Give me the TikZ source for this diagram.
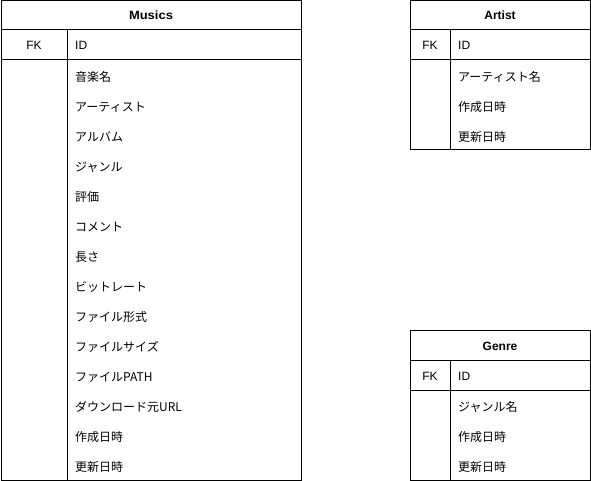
\documentclass[tikz,border=0pt]{standalone}
\usepackage{fontspec}
\setmainfont{Liberation Sans}
\newfontfamily\jp{Noto Sans CJK JP}
\begin{document}
\begin{tikzpicture}[x=1pt,y=1pt,
  cellbox/.style={draw=black, line width=1pt, anchor=north west, inner sep=0pt, outer sep=0pt},
  hdrtext/.style={anchor=base, inner sep=0pt, font=\fontsize{12}{14}\selectfont\bfseries},
  keytext/.style={anchor=base, inner sep=0pt, font=\fontsize{12}{14}\selectfont},
  idtext/.style={anchor=base west, inner sep=0pt, font=\fontsize{12}{14}\selectfont},
  rowtext/.style={anchor=base west, inner sep=0pt, font=\fontsize{12}{14}\selectfont\jp}]
\useasboundingbox (0,0) rectangle (591,-481);
% ---------- Musics ----------
\node[cellbox, minimum width=300, minimum height=29] (mH) at (1,-1) {};
\node[cellbox, minimum width=66, minimum height=30] (mK) at (1,-30) {};
\node[cellbox, minimum width=234, minimum height=30] (mI) at (67,-30) {};
\node[cellbox, minimum width=66, minimum height=420] (mL) at (1,-60) {};
\node[cellbox, minimum width=234, minimum height=420] (mR) at (67,-60) {};
\node[hdrtext] (mHt) at (151,-20) {\scalebox{1.08}[1]{Musics}};
\node[keytext] (mKt) at (34,-50) {FK};
\node[idtext] (mIt) at (75,-50) {ID};
\node[rowtext] (m1) at (75,-81.5) {音楽名};
\node[rowtext] (m2) at (75,-111.5) {アーティスト};
\node[rowtext] (m3) at (75,-141.5) {アルバム};
\node[rowtext] (m4) at (75,-171.5) {ジャンル};
\node[rowtext] (m5) at (75,-201.5) {評価};
\node[rowtext] (m6) at (75,-231.5) {コメント};
\node[rowtext] (m7) at (75,-261.5) {長さ};
\node[rowtext] (m8) at (75,-291.5) {ビットレート};
\node[rowtext] (m9) at (75,-321.5) {ファイル形式};
\node[rowtext] (m10) at (75,-351.5) {ファイルサイズ};
\node[rowtext] (m11) at (75,-381.5) {ファイルPATH};
\node[rowtext] (m12) at (75,-411.5) {ダウンロード元URL};
\node[rowtext] (m13) at (75,-441.5) {作成日時};
\node[rowtext] (m14) at (75,-471.5) {更新日時};
% ---------- Artist ----------
\node[cellbox, minimum width=180, minimum height=29] (aH) at (410,-1) {};
\node[cellbox, minimum width=40, minimum height=30] (aK) at (410,-30) {};
\node[cellbox, minimum width=140, minimum height=30] (aI) at (450,-30) {};
\node[cellbox, minimum width=40, minimum height=90] (aL) at (410,-60) {};
\node[cellbox, minimum width=140, minimum height=90] (aR) at (450,-60) {};
\node[hdrtext] (aHt) at (500,-20) {Artist};
\node[keytext] (aKt) at (430,-50) {FK};
\node[idtext] (aIt) at (458,-50) {ID};
\node[rowtext] (a1) at (458,-81.5) {アーティスト名};
\node[rowtext] (a2) at (458,-111.5) {作成日時};
\node[rowtext] (a3) at (458,-141.5) {更新日時};
% ---------- Genre ----------
\node[cellbox, minimum width=180, minimum height=30] (gH) at (410,-330) {};
\node[cellbox, minimum width=40, minimum height=30] (gK) at (410,-360) {};
\node[cellbox, minimum width=140, minimum height=30] (gI) at (450,-360) {};
\node[cellbox, minimum width=40, minimum height=90] (gL) at (410,-390) {};
\node[cellbox, minimum width=140, minimum height=90] (gR) at (450,-390) {};
\node[hdrtext] (gHt) at (500,-350) {Genre};
\node[keytext] (gKt) at (430,-380) {FK};
\node[idtext] (gIt) at (458,-380) {ID};
\node[rowtext] (g1) at (458,-411.5) {ジャンル名};
\node[rowtext] (g2) at (458,-441.5) {作成日時};
\node[rowtext] (g3) at (458,-471.5) {更新日時};
\end{tikzpicture}
\end{document}
